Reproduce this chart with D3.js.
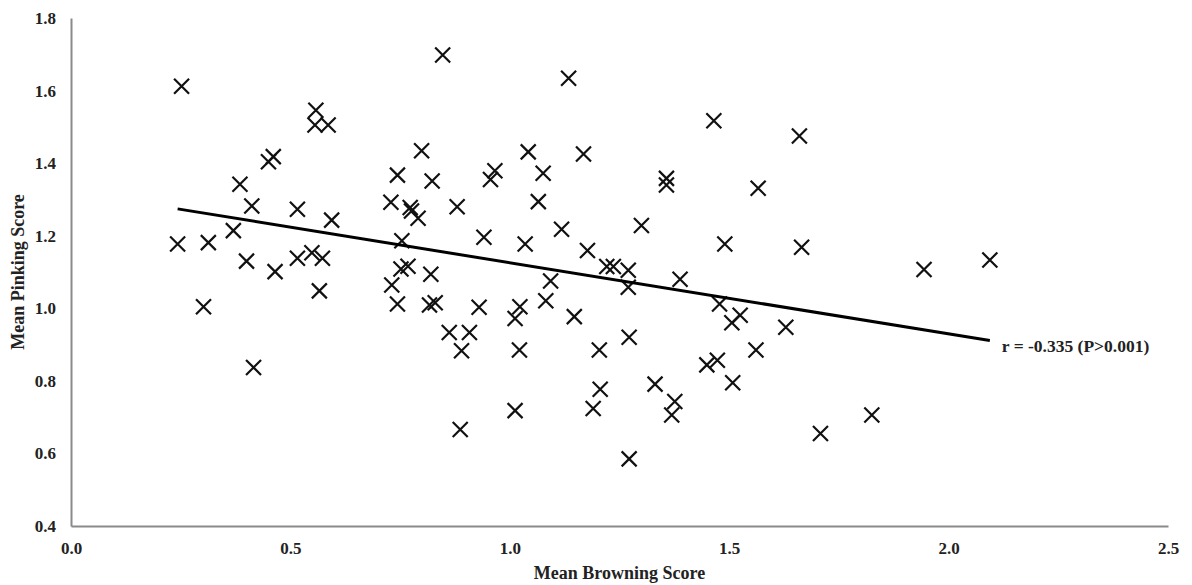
<!DOCTYPE html>
<html>
<head>
  <meta charset="utf-8">
  <script src="https://d3js.org/d3.v7.min.js"></script>
  <style>
    body { margin: 0; background: #fff; }
    svg text { font-family: "Liberation Serif", "Times New Roman", serif; font-weight: bold; fill: #222; }
  </style>
</head>
<body>
  <script type="text/javascript">

    // mean browning score (x) and mean pinking score (y) for each sample
    var browning = [
      0.252, 0.243, 0.313, 0.385, 0.370, 0.412, 0.400, 0.450, 0.461, 0.465,
      0.302, 0.416, 0.516, 0.516, 0.549, 0.573, 0.566, 0.558, 0.556, 0.586,
      0.594, 0.847, 1.134, 0.799, 1.042, 1.168, 0.744, 0.823, 0.966, 0.956,
      1.076, 0.729, 0.773, 0.776, 0.791, 0.880, 1.065, 0.941, 1.035, 1.118,
      0.754, 0.752, 0.768, 0.820, 0.731, 1.093, 0.744, 0.817, 0.830, 0.930,
      1.023, 1.012, 1.082, 1.147, 0.862, 0.908, 0.890, 1.022, 1.012, 0.887,
      1.465, 1.660, 1.357, 1.357, 1.566, 1.300, 1.177, 1.490, 1.665, 1.221,
      1.236, 1.270, 1.270, 1.388, 1.478, 1.525, 1.506, 1.629, 1.204, 1.272,
      1.561, 1.449, 1.473, 1.508, 1.331, 1.206, 1.190, 1.376, 1.369, 1.272,
      1.708, 1.825, 1.944, 2.094
    ];
    var pinking = [
      1.612, 1.177, 1.181, 1.342, 1.214, 1.282, 1.130, 1.404, 1.418, 1.101,
      1.004, 0.837, 1.273, 1.138, 1.153, 1.138, 1.048, 1.546, 1.505, 1.505,
      1.243, 1.698, 1.634, 1.434, 1.431, 1.425, 1.367, 1.351, 1.379, 1.355,
      1.372, 1.292, 1.278, 1.268, 1.248, 1.280, 1.294, 1.196, 1.177, 1.218,
      1.186, 1.108, 1.116, 1.094, 1.064, 1.075, 1.012, 1.009, 1.015, 1.003,
      1.004, 0.972, 1.021, 0.977, 0.933, 0.933, 0.883, 0.885, 0.718, 0.666,
      1.517, 1.475, 1.358, 1.340, 1.331, 1.228, 1.159, 1.177, 1.168, 1.115,
      1.115, 1.105, 1.058, 1.080, 1.012, 0.981, 0.960, 0.948, 0.885, 0.920,
      0.885, 0.844, 0.857, 0.795, 0.791, 0.777, 0.724, 0.743, 0.706, 0.585,
      0.655, 0.706, 1.107, 1.133
    ];

    var trendX = [0.243, 2.094];
    var trendY = [1.274, 0.911];
    var trendLabel = "r = -0.335 (P>0.001)";

    var xTicks = [0, 0.5, 1, 1.5, 2, 2.5];
    var yTicks = [0.4, 0.6, 0.8, 1.0, 1.2, 1.4, 1.6, 1.8];

    var W = 1192, H = 585;
    var margin = { top: 18, right: 24, bottom: 59, left: 71 };
    var width = W - margin.left - margin.right,
      height = H - margin.top - margin.bottom;

    var svg = d3.select("body").append("svg")
      .attr("width", W)
      .attr("height", H);

    var g = svg.append("g")
      .attr("transform", "translate(" + margin.left + "," + margin.top + ")");

    var x = d3.scaleLinear().domain([0, 2.5]).range([0, width]);
    var y = d3.scaleLinear().domain([0.4, 1.8]).range([height, 0]);

    var xAxis = d3.axisBottom(x)
      .tickValues(xTicks)
      .tickFormat(d3.format(".1f"))
      .tickSize(0)
      .tickPadding(16);

    var yAxis = d3.axisLeft(y)
      .tickValues(yTicks)
      .tickFormat(d3.format(".1f"))
      .tickSize(0)
      .tickPadding(15);

    var xg = g.append("g")
      .attr("transform", "translate(0," + height + ")")
      .call(xAxis);
    var yg = g.append("g").call(yAxis);

    [xg, yg].forEach(function (ax) {
      ax.select(".domain").attr("stroke", "#8a8a8a").attr("stroke-width", 2);
      ax.selectAll(".tick text")
        .style("font-size", "17px")
        .attr("fill", "#222");
    });

    // X-shaped markers
    var pts = browning.map(function (b, i) { return { b: b, p: pinking[i] }; });
    var s = 7.5;
    g.append("g").selectAll("path")
      .data(pts)
      .enter().append("path")
      .attr("transform", function (d) {
        return "translate(" + x(d.b) + "," + y(d.p) + ")";
      })
      .attr("d", "M" + (-s) + "," + (-s) + "L" + s + "," + s + "M" + (-s) + "," + s + "L" + s + "," + (-s))
      .attr("stroke", "#111")
      .attr("stroke-width", 2.2)
      .attr("fill", "none");

    // trend line
    var line = d3.line()
      .x(function (d) { return x(d[0]); })
      .y(function (d) { return y(d[1]); });

    g.append("path")
      .datum(trendX.map(function (v, i) { return [v, trendY[i]]; }))
      .attr("d", line)
      .attr("stroke", "#000")
      .attr("stroke-width", 3)
      .attr("fill", "none");

    g.append("text")
      .attr("x", x(trendX[1]) + 12)
      .attr("y", y(trendY[1]) + 11)
      .style("font-size", "17.5px")
      .text(trendLabel);

    // axis titles
    svg.append("text")
      .attr("x", margin.left + width / 2)
      .attr("y", 579)
      .attr("text-anchor", "middle")
      .style("font-size", "18px")
      .text("Mean Browning Score");

    svg.append("text")
      .attr("transform", "translate(24," + (margin.top + height / 2) + ") rotate(-90)")
      .attr("text-anchor", "middle")
      .style("font-size", "18px")
      .text("Mean Pinking Score");

  </script>
</body>
</html>
